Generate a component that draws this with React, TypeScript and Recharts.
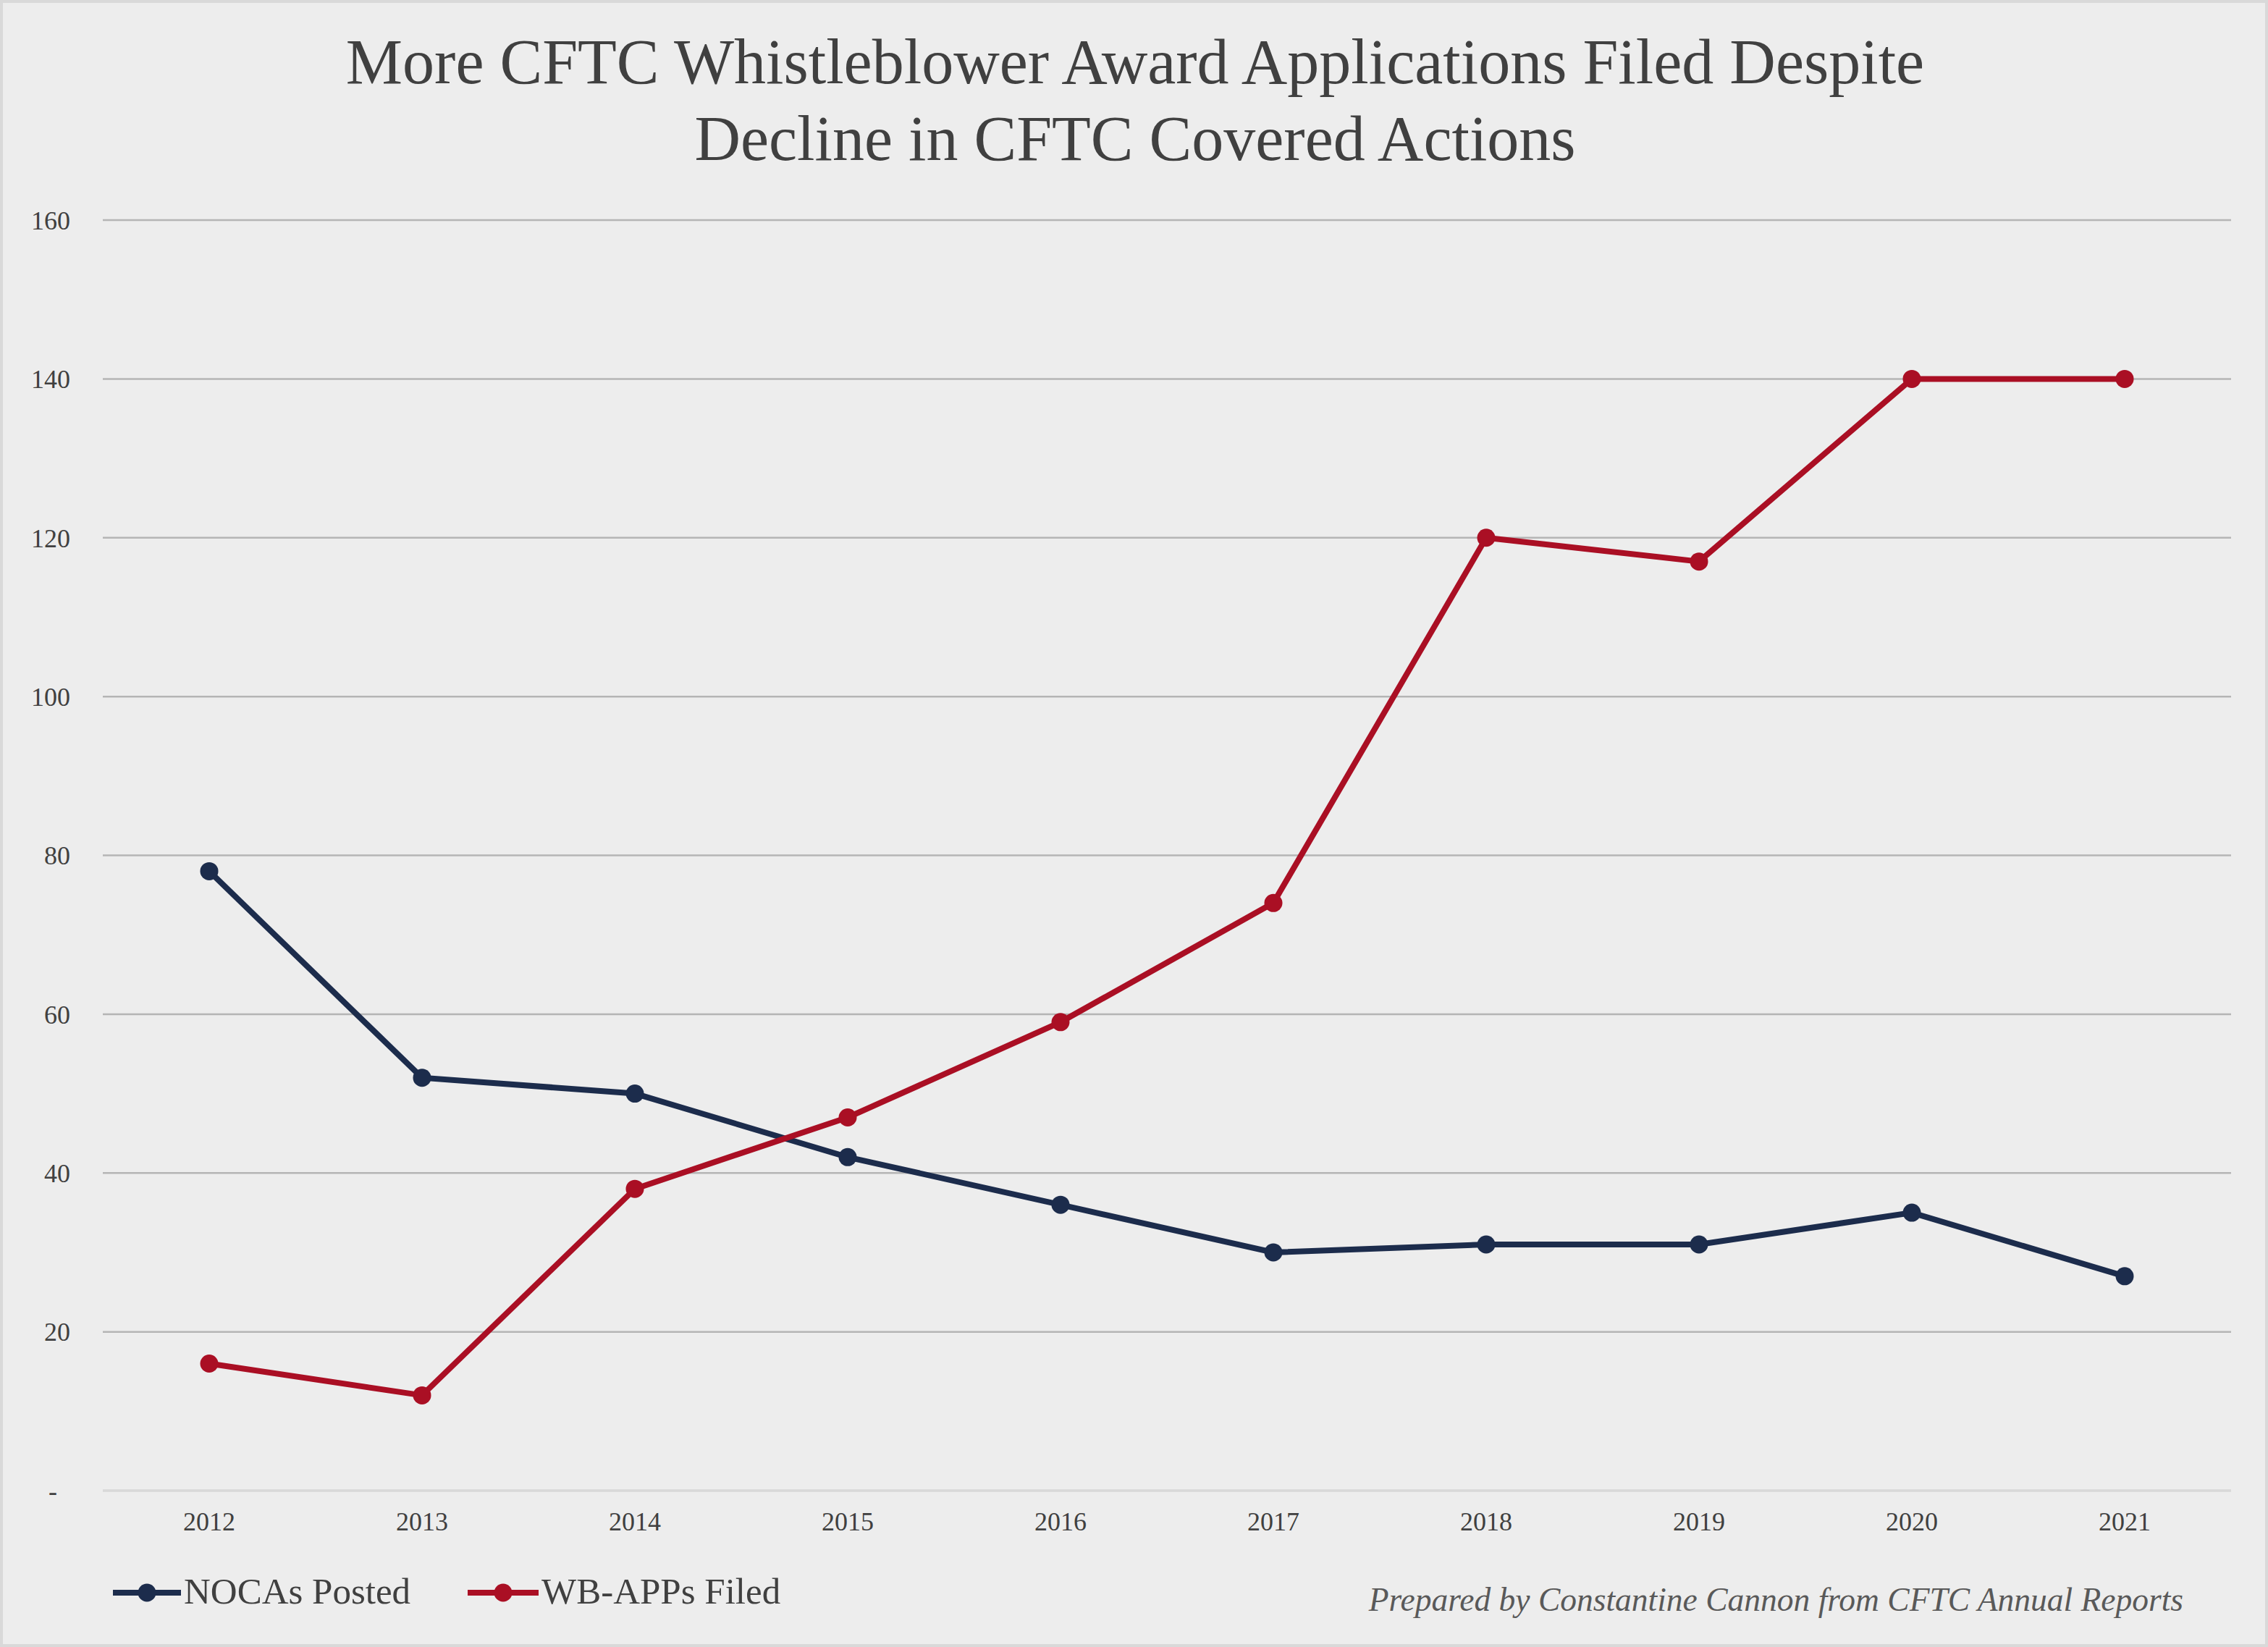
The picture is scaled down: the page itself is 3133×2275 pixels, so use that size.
import React from 'react';
import { LineChart, Line, XAxis, YAxis, CartesianGrid } from 'recharts';

const years = ['2012', '2013', '2014', '2015', '2016', '2017', '2018', '2019', '2020', '2021'];
const nocasPosted = [78, 52, 50, 42, 36, 30, 31, 31, 35, 27];
const wbAppsFiled = [16, 12, 38, 47, 59, 74, 120, 117, 140, 140];
const yTicks = [0, 20, 40, 60, 80, 100, 120, 140, 160];

const titleLines = [
  'More CFTC Whistleblower Award Applications Filed Despite',
  'Decline in CFTC Covered Actions',
];
const footnote = 'Prepared by Constantine Cannon from CFTC Annual Reports';

const data = years.map((year, i) => ({
  year,
  nocas: nocasPosted[i],
  wbApps: wbAppsFiled[i],
}));

const W = 3133;
const H = 2275;
const NAVY = '#1c2c4c';
const RED = '#aa0f24';
const FONT = '"Liberation Serif", "Times New Roman", serif';

const App = () => {
  return (
    <div style={{ position: 'absolute', left: 0, top: 0, width: W, height: H, background: '#ededed' }}>
      <LineChart
        width={W}
        height={H}
        data={data}
        margin={{ top: 304, right: 51, left: 0, bottom: 156 }}
        style={{ fontFamily: FONT }}
      >
        <CartesianGrid vertical={false} stroke='#b5b5b5' strokeWidth={2.5} />
        <XAxis
          dataKey='year'
          height={60}
          padding={{ left: 147, right: 147 }}
          axisLine={{ stroke: '#d9d9d9', strokeWidth: 3 }}
          tickLine={false}
          tickSize={0}
          tickMargin={29}
          tick={{ fill: '#404040', fontSize: 36, fontFamily: FONT }}
        />
        <YAxis
          width={142}
          domain={[0, 160]}
          ticks={yTicks}
          axisLine={false}
          tickLine={false}
          tickSize={0}
          tickMargin={45}
          tickFormatter={(v) => (v === 0 ? '-\u00A0\u00A0' : String(v))}
          tick={{ fill: '#404040', fontSize: 36, fontFamily: FONT }}
        />
        <Line
          dataKey='nocas'
          name='NOCAs Posted'
          stroke={NAVY}
          strokeWidth={8}
          dot={{ r: 12.5, fill: NAVY, stroke: NAVY, strokeWidth: 0 }}
          activeDot={false}
          isAnimationActive={false}
        />
        <Line
          dataKey='wbApps'
          name='WB-APPs Filed'
          stroke={RED}
          strokeWidth={8}
          dot={{ r: 12.5, fill: RED, stroke: RED, strokeWidth: 0 }}
          activeDot={false}
          isAnimationActive={false}
        />
      </LineChart>
      <svg
        width={W}
        height={H}
        style={{ position: 'absolute', left: 0, top: 0, pointerEvents: 'none', fontFamily: FONT }}
      >
        <rect x={2} y={2} width={W - 4} height={H - 4} fill='none' stroke='#d9d9d9' strokeWidth={4} />
        {titleLines.map((line, i) => (
          <text key={i} x={1568} y={115 + i * 106} textAnchor='middle' fontSize={88} fill='#404040'>
            {line}
          </text>
        ))}
        <line x1={156} y1={2200} x2={250} y2={2200} stroke={NAVY} strokeWidth={8} />
        <circle cx={203} cy={2200} r={12.5} fill={NAVY} />
        <text x={254} y={2215} fontSize={51} fill='#404040'>NOCAs Posted</text>
        <line x1={646} y1={2200} x2={744} y2={2200} stroke={RED} strokeWidth={8} />
        <circle cx={695} cy={2200} r={12.5} fill={RED} />
        <text x={748} y={2215} fontSize={51} fill='#404040'>WB-APPs Filed</text>
        <text x={3016} y={2225} textAnchor='end' fontSize={45.5} fontStyle='italic' fill='#595959'>
          {footnote}
        </text>
      </svg>
    </div>
  );
};

export default App;
